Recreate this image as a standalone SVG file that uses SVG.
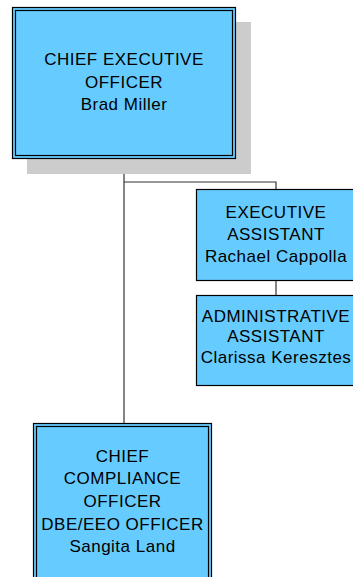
<svg xmlns="http://www.w3.org/2000/svg" width="353" height="577" viewBox="0 0 353 577">
<style>
.box{fill:#66CCFF;stroke:#000;stroke-width:1.2}
.inner{fill:none;stroke:#000;stroke-width:1.2}
.shadow{fill:#CCCCCC}
.conn{fill:none;stroke:#333;stroke-width:1.2}
text{font-family:"Liberation Sans",Arial,sans-serif;font-size:17px;fill:#000;text-anchor:middle;letter-spacing:0.5px}
</style>
<rect width="353" height="577" fill="#fff"/>
<g id="connectors">
<path class="conn" d="M124 158 V424"/>
<path class="conn" d="M124 182 H276 V189"/>
<path class="conn" d="M276 280 V295"/>
</g>
<g id="ceo">
<rect class="shadow" x="27" y="22" width="224" height="152"/>
<rect class="box" x="12.5" y="7.5" width="223" height="151"/>
<rect class="inner" x="15.5" y="10.5" width="217" height="145"/>
<text x="124" y="65">CHIEF EXECUTIVE</text>
<text x="124" y="87.5">OFFICER</text>
<text x="124" y="110">Brad Miller</text>
</g>
<g id="exec-assistant">
<rect class="box" x="196.5" y="189.5" width="160" height="91"/>
<text x="276" y="218">EXECUTIVE</text>
<text x="276" y="239.5">ASSISTANT</text>
<text x="276" y="261.5">Rachael Cappolla</text>
</g>
<g id="admin-assistant">
<rect class="box" x="196.5" y="295.5" width="160" height="90"/>
<text x="276" y="321.5">ADMINISTRATIVE</text>
<text x="276" y="341.5">ASSISTANT</text>
<text x="276" y="363">Clarissa Keresztes</text>
</g>
<g id="cco">
<rect class="box" x="33.5" y="423.5" width="178" height="170"/>
<rect class="inner" x="36.5" y="426.5" width="172" height="164"/>
<text x="122.5" y="462">CHIEF</text>
<text x="122.5" y="484">COMPLIANCE</text>
<text x="122.5" y="506.5">OFFICER</text>
<text x="122.5" y="530">DBE/EEO OFFICER</text>
<text x="122.5" y="551.5">Sangita Land</text>
</g>
</svg>
